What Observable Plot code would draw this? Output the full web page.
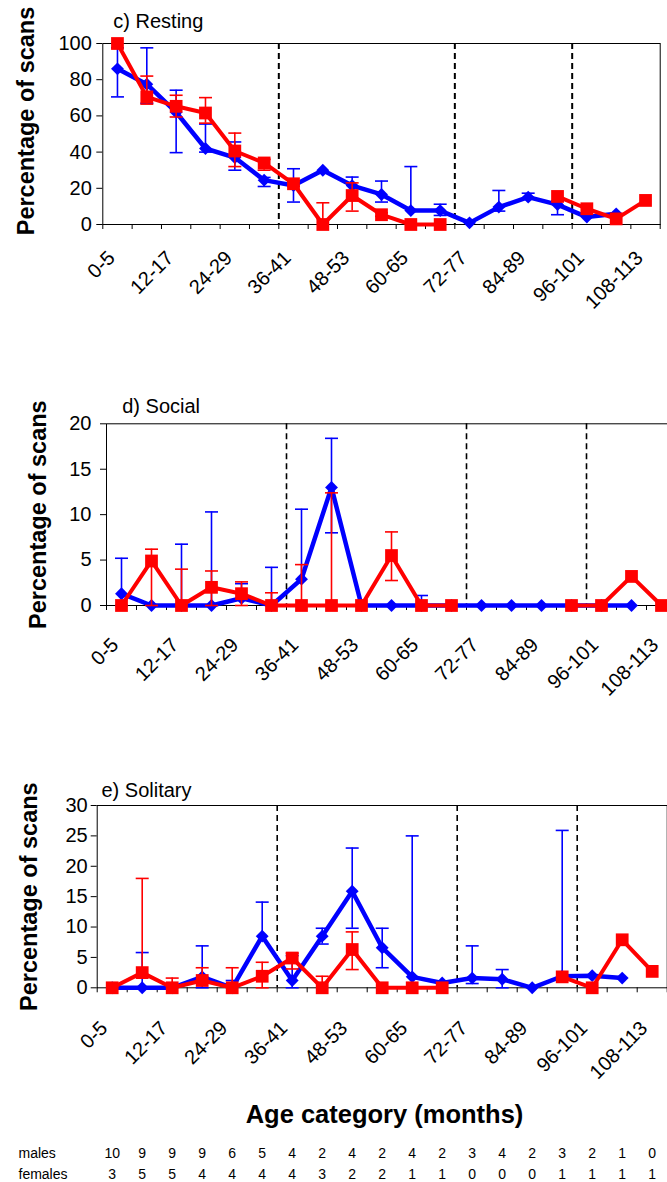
<!DOCTYPE html>
<html><head><meta charset="utf-8">
<script src="https://cdn.jsdelivr.net/npm/d3@7"></script>
<script src="https://cdn.jsdelivr.net/npm/@observablehq/plot@0.6"></script>
<style>
html,body{margin:0;padding:0;background:#fff;overflow:hidden;width:667px;height:1182px;}
#wrap{position:relative;width:667px;height:1182px;overflow:hidden;background:#fff;}
.panel{position:absolute;left:0;}
</style></head><body><div id="wrap"></div>
<script>
// ---------- data ----------
const categories = ["0-5","6-11","12-17","18-23","24-29","30-35","36-41","42-47","48-53","54-59",
  "60-65","66-71","72-77","78-83","84-89","90-95","96-101","102-107","108-113"];
const periodStarts = ["36-41","72-77","96-101"];

// c) Resting
const restingMale      = [86, 77.5, 62, 42, 37, 24.5, 21.5, 30, 21.5, 16.6, 7.7, 7.7, 0.9, 9.6, 15.1, 11, 4.1, 5.9, null];
const restingMaleHi    = [97.6, 97.6, 74.2, 55.5, 45.6, 26, 30.8, null, 26.2, 24, 32, 11.2, null, 18.8, 17.3, 13, null, null, null];
const restingMaleLo    = [70.5, 67, 39.7, 40, 30, 21, 12.4, null, null, 12.4, null, 5, null, 7.4, null, 5.4, null, null, null];
const restingFemale    = [100, 70.5, 65.3, 61.6, 40.6, 34, 22.5, 0, 16, 5.4, 0, 0, null, null, null, 15.5, 8.7, 3.1, 13.3];
const restingFemaleHi  = [null, 82, 71.4, 70.1, 50.5, 36, 24, 12, 23, 6.5, null, null, null, null, null, null, null, null, null];
const restingFemaleLo  = [null, 66.5, 59.4, 56, 32, 30, 21, null, 7.4, 4.5, null, null, null, null, null, null, null, null, null];

// d) Social
const socialMale       = [1.3, 0, 0, 0, 0.8, 0, 2.9, 13, 0, 0, 0, 0, 0, 0, 0, 0, 0, 0, null];
const socialMaleHi     = [5.2, null, 6.75, 10.3, 2.4, 4.2, 10.6, 18.4, null, null, 1.1, null, null, null, null, null, null, null, null];
const socialMaleLo     = [0, null, null, null, null, null, null, 8, null, null, null, null, null, null, null, null, null, null, null];
const socialFemale     = [0, 4.9, 0, 2.0, 1.3, 0, 0, 0, 0, 5.5, 0, 0, null, null, null, 0, 0, 3.2, 0];
const socialFemaleHi   = [null, 6.2, 4.0, 3.8, 2.6, 1.4, 4.5, 12.4, null, 8.1, null, null, null, null, null, null, null, null, null];
const socialFemaleLo   = [null, 0, null, 0, 0, null, 0, 0, null, 2.75, null, null, null, null, null, null, null, null, null];

// e) Solitary
const solitaryMale     = [0, 0, 0, 1.8, 0, 8.5, 1.2, 8.5, 15.9, 6.6, 1.8, 0.8, 1.6, 1.4, 0, 1.9, 2.0, 1.6, null];
const solitaryMaleHi   = [null, 5.8, null, 6.9, 1.2, 14.1, 5.3, 9.8, 23, 9.8, 25, null, 6.9, 3.0, null, 25.9, null, null, null];
const solitaryMaleLo   = [null, null, null, 0, null, null, 0, 7.2, 9.8, 3.3, null, null, 0.7, 0, null, null, null, null, null];
const solitaryFemale   = [0, 2.5, 0, 1.2, 0, 1.9, 4.9, 0, 6.3, 0, 0, 0, null, null, null, 1.8, 0, 7.9, 2.7];
const solitaryFemaleHi = [null, 18.0, 1.6, 3.3, 3.3, 4.2, 5.7, 1.9, 9.2, null, null, null, null, null, null, null, null, null, null];
const solitaryFemaleLo = [null, null, null, null, null, 0, 3.1, null, 3.0, null, null, null, null, null, null, null, null, null, null];

// sample sizes
const males   = [10, 9, 9, 9, 6, 5, 4, 2, 4, 2, 4, 2, 3, 4, 2, 3, 2, 1, 0];
const females = [3, 5, 5, 4, 4, 4, 4, 3, 2, 2, 1, 1, 0, 0, 0, 1, 1, 1, 1];

const yTicksResting  = [0, 20, 40, 60, 80, 100];
const yTicksSocial   = [0, 5, 10, 15, 20];
const yTicksSolitary = [0, 5, 10, 15, 20, 25, 30];

// ---------- helpers ----------
const BLUE = "#0000ff", RED = "#ff0000";
const FONT = "'Liberation Sans', Arial, sans-serif";
const nCat = categories.length;
const catIndex = categories.map((c, i) => i);
const labelIdx = catIndex.filter(i => i % 2 === 0);
const boundaries = d3.range(nCat + 1).map(i => i - 0.5);
const dividers = periodStarts.map(c => categories.indexOf(c) - 0.5);

const capSymbol = {draw(ctx, size) { const r = Math.sqrt(size / Math.PI); ctx.moveTo(-r, 0); ctx.lineTo(r, 0); }};

function rows(v, hi, lo) {
  return categories.map((c, i) => ({i, cat: c, v: v[i], hi: hi[i], lo: lo[i]}));
}

function seriesMarks(data, color, symbol, r, lw) {
  const bars = data.filter(d => d.v != null && (d.hi != null || d.lo != null));
  const caps = [];
  for (const d of bars) {
    if (d.hi != null) caps.push({i: d.i, y: d.hi});
    if (d.lo != null) caps.push({i: d.i, y: d.lo});
  }
  return [
    Plot.line(data, {x: "i", y: "v", stroke: color, strokeWidth: lw, strokeLinejoin: "miter"}),
    Plot.ruleX(bars, {x: "i", y1: d => d.lo ?? d.v, y2: d => d.hi ?? d.v, stroke: color, strokeWidth: 1.6}),
    Plot.dot(caps, {x: "i", y: "y", symbol: capSymbol, r: 6.5, stroke: color, strokeWidth: 1.6, fill: "none"}),
    Plot.dot(data.filter(d => d.v != null), {x: "i", y: "v", symbol, r, fill: color, stroke: "none"})
  ];
}

function panel(o) {
  const chart = Plot.plot({
    width: o.width, height: o.height,
    marginLeft: o.marginLeft, marginRight: o.marginRight,
    marginTop: o.marginTop, marginBottom: o.marginBottom,
    style: {fontFamily: FONT, fontSize: "20px", color: "black", background: "white", maxWidth: "none", overflow: "visible"},
    x: {domain: [-0.5, nCat - 0.5]},
    y: {domain: [0, o.yMax]},
    marks: [
      Plot.ruleX(dividers, {stroke: "black", strokeWidth: o.divWidth, strokeDasharray: "6,4"}),
      Plot.axisY(o.yTicks, {tickSize: 6, tickPadding: o.yPad, fontSize: 20, label: null}),
      Plot.axisX(boundaries, {tickSize: 5, tickFormat: () => "", label: null}),
      Plot.axisX(labelIdx, {tickSize: 0, tickPadding: o.xLabDy, tickRotate: -45, textAnchor: "end",
        tickFormat: i => categories[i], dx: o.xLabDx, fontSize: 20, label: null}),
      Plot.frame({stroke: "black", strokeWidth: 1}),
      ...seriesMarks(o.male, BLUE, "diamond2", 5.8, 4.5),
      ...seriesMarks(o.female, RED, "square", 7.2, 4),
      Plot.text([o.title], {frameAnchor: "top-left", textAnchor: "start", lineAnchor: "middle",
        dx: o.titleDx, dy: o.titleDy, fontSize: 20}),
      Plot.text(["Percentage of scans"], {frameAnchor: "left", rotate: -90, textAnchor: "middle", lineAnchor: "middle",
        dx: o.yTitleDx, dy: o.yTitleDy, fontSize: 23.5, fontWeight: "bold"}),
      ...(o.extra || [])
    ]
  });
  chart.classList.add("panel");
  chart.style.top = o.top + "px";
  chart.style.position = "absolute";
  chart.style.left = "0px";
  document.getElementById("wrap").appendChild(chart);
}

// c) Resting
panel({
  top: 0, width: 667, height: 310, marginLeft: 102.3, marginRight: 7.3, marginTop: 43, marginBottom: 86,
  yMax: 100, yTicks: yTicksResting, yPad: 5, divWidth: 2,
  xLabDy: 30, xLabDx: -6,
  title: "c) Resting", titleDx: 10.5, titleDy: -22,
  yTitleDx: -76, yTitleDy: -13,
  male: rows(restingMale, restingMaleHi, restingMaleLo),
  female: rows(restingFemale, restingFemaleHi, restingFemaleLo)
});

// d) Social
panel({
  top: 380, width: 680, height: 320, marginLeft: 106, marginRight: 4, marginTop: 43.3, marginBottom: 95,
  yMax: 20, yTicks: yTicksSocial, yPad: 9, divWidth: 1.6,
  xLabDy: 36, xLabDx: -6.5,
  title: "d) Social", titleDx: 15.7, titleDy: -17.5,
  yTitleDx: -68, yTitleDy: 0,
  male: rows(socialMale, socialMaleHi, socialMaleLo),
  female: rows(socialFemale, socialFemaleHi, socialFemaleLo)
});

// e) Solitary + sample-size table
panel({
  top: 760, width: 668, height: 422, marginLeft: 96.7, marginRight: 1.3, marginTop: 45, marginBottom: 194.7,
  yMax: 30, yTicks: yTicksSolitary, yPad: 3.5, divWidth: 1.6,
  xLabDy: 37, xLabDx: -8,
  title: "e) Solitary", titleDx: 4.3, titleDy: -15,
  yTitleDx: -68, yTitleDy: 0,
  male: rows(solitaryMale, solitaryMaleHi, solitaryMaleLo),
  female: rows(solitaryFemale, solitaryFemaleHi, solitaryFemaleLo),
  extra: [
    Plot.text(["Age category (months)"], {frameAnchor: "bottom", lineAnchor: "middle", dx: 2.3, dy: 127, fontSize: 25.5, fontWeight: "bold"}),
    Plot.text(["males"], {frameAnchor: "bottom-left", textAnchor: "start", lineAnchor: "middle", dx: 18 - 96.7, dy: 165.7, fontSize: 14}),
    Plot.text(["females"], {frameAnchor: "bottom-left", textAnchor: "start", lineAnchor: "middle", dx: 18 - 96.7, dy: 186.7, fontSize: 14}),
    Plot.text(males, {x: (d, i) => i, frameAnchor: "bottom", lineAnchor: "middle", dy: 165.7, text: d => String(d), fontSize: 14}),
    Plot.text(females, {x: (d, i) => i, frameAnchor: "bottom", lineAnchor: "middle", dy: 186.7, text: d => String(d), fontSize: 14})
  ]
});
</script></body></html>
